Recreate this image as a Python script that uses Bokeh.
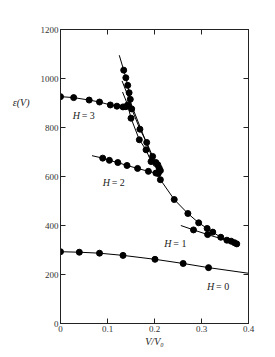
from bokeh.plotting import figure
from bokeh.models import LinearAxis, Label, FixedTicker, Range1d
from bokeh.embed import file_html
from bokeh.resources import INLINE

# ---- data ----
x_ticks = [0, 0.1, 0.2, 0.3, 0.4]
x_tick_labels = ["0", "0.1", "0.2", "0.3", "0.4"]
y_ticks = [0, 200, 400, 600, 800, 1000, 1200]
y_title_pos = [903]
y_title = "ε(V)"
x_title = "V/V₀"

# H = 0
h0_line_x = [0, 0.04, 0.083, 0.133, 0.201, 0.261, 0.315, 0.4]
h0_line_y = [293, 291, 287, 278, 262, 245, 228, 205]
h0_dot_x = [0, 0.04, 0.083, 0.133, 0.201, 0.261, 0.315]
h0_dot_y = [293, 291, 287, 278, 262, 245, 228]

# H = 1 branch
h1_line_x = [0.256, 0.283, 0.313, 0.37]
h1_line_y = [400, 382, 363, 330]
h1_dot_x = [0.283, 0.313]
h1_dot_y = [382, 363]

# H = 2 flat branch
h2_line_x = [0.067, 0.0898, 0.104, 0.122, 0.1415, 0.164, 0.187, 0.203]
h2_line_y = [685, 675, 666, 657, 645, 633, 621, 614]
h2_dot_x = [0.0898, 0.104, 0.122, 0.1415, 0.164, 0.187, 0.203]
h2_dot_y = [675, 666, 657, 645, 633, 621, 614]

# H = 3 flat branch
h3_line_x = [0, 0.028, 0.061, 0.083, 0.106, 0.12, 0.133, 0.139, 0.146]
h3_line_y = [926, 922, 912, 904, 892, 887, 884, 885, 892]
h3_dot_x = [0, 0.028, 0.061, 0.083, 0.106, 0.12, 0.133, 0.139]
h3_dot_y = [926, 922, 912, 904, 892, 887, 884, 885]

# steep envelope curve
env_line_x = [0.125, 0.1345, 0.139, 0.143, 0.146, 0.1485, 0.1515, 0.169, 0.1834,
              0.196, 0.203, 0.207, 0.210, 0.2125, 0.208, 0.2125, 0.242, 0.271,
              0.294, 0.312, 0.324, 0.341, 0.354, 0.363, 0.37, 0.375]
env_line_y = [1095, 1034, 1003, 972, 942, 915, 876, 793, 739,
              682, 657, 648, 635, 624, 612, 587, 506, 449,
              411, 388, 373, 352, 340, 336, 330, 325]
env_dot_x = env_line_x[1:]
env_dot_y = env_line_y[1:]

# inner steep lines
inA_line_x = [0.131, 0.205]
inA_line_y = [990, 628]
inB_line_x = [0.132, 0.143, 0.15, 0.1677, 0.182, 0.1926, 0.2]
inB_line_y = [945, 892, 838, 750, 709, 661, 640]
inB_dot_x = [0.143, 0.15, 0.1677, 0.182, 0.1926]
inB_dot_y = [892, 838, 750, 709, 661]

# annotations: (x, y, number)
h_labels_x = [0.026, 0.0898, 0.221, 0.3117]
h_labels_y = [851, 575, 327, 152]
h_labels_num = ["3", "2", "1", "0"]

FONT = "Liberation Serif"
INK = "#222222"

p = figure(width=267, height=349, output_backend="svg", toolbar_location=None,
           x_range=Range1d(0, 0.4), y_range=Range1d(0, 1200),
           min_border_left=60, min_border_right=19, min_border_top=29,
           min_border_bottom=25)
p.grid.visible = False
p.background_fill_color = "white"
p.border_fill_color = "white"
p.outline_line_color = INK
p.outline_line_width = 1

def style_axis(ax):
    ax.major_tick_in = 5
    ax.major_tick_out = 0
    ax.minor_tick_line_color = None
    ax.axis_line_color = INK
    ax.major_tick_line_color = INK
    ax.major_label_text_font = FONT
    ax.major_label_text_font_size = "9px"
    ax.major_label_text_color = "#333333"
    ax.major_label_standoff = 2

p.xaxis.ticker = FixedTicker(ticks=x_ticks)
p.xaxis.major_label_overrides = {t: l for t, l in zip(x_ticks, x_tick_labels)}
p.yaxis.ticker = FixedTicker(ticks=y_ticks)
style_axis(p.xaxis[0])
style_axis(p.yaxis[0])
p.xaxis.major_label_standoff = 2
p.xaxis.axis_label = x_title
p.xaxis.axis_label_text_font = FONT
p.xaxis.axis_label_text_font_style = "italic"
p.xaxis.axis_label_text_font_size = "10px"
p.xaxis.axis_label_text_color = INK
p.xaxis.axis_label_standoff = 1

# top / right axes: ticks only
top = LinearAxis(ticker=FixedTicker(ticks=x_ticks),
                 major_label_overrides={t: "" for t in x_ticks})
style_axis(top)
p.add_layout(top, "above")
right = LinearAxis(ticker=FixedTicker(ticks=y_ticks),
                   major_label_overrides={t: "" for t in y_ticks})
style_axis(right)
p.add_layout(right, "right")

# horizontal y title via an outer left axis
ytitle_axis = LinearAxis(ticker=FixedTicker(ticks=y_title_pos),
                         major_label_overrides={y_title_pos[0]: y_title})
ytitle_axis.axis_line_color = None
ytitle_axis.major_tick_line_color = None
ytitle_axis.minor_tick_line_color = None
ytitle_axis.major_label_text_font = FONT
ytitle_axis.major_label_text_font_style = "italic"
ytitle_axis.major_label_text_font_size = "10px"
ytitle_axis.major_label_text_color = INK
ytitle_axis.major_label_standoff = 2
p.add_layout(ytitle_axis, "left")

for lx, ly in [(h0_line_x, h0_line_y), (h1_line_x, h1_line_y), (h2_line_x, h2_line_y),
               (h3_line_x, h3_line_y), (env_line_x, env_line_y),
               (inA_line_x, inA_line_y), (inB_line_x, inB_line_y)]:
    p.line(lx, ly, line_color="black", line_width=1)

for dx, dy in [(h0_dot_x, h0_dot_y), (h1_dot_x, h1_dot_y), (h2_dot_x, h2_dot_y),
               (h3_dot_x, h3_dot_y), (env_dot_x, env_dot_y), (inB_dot_x, inB_dot_y)]:
    p.scatter(dx, dy, size=6, fill_color="black", line_color="black")

for lx, ly, n in zip(h_labels_x, h_labels_y, h_labels_num):
    p.add_layout(Label(x=lx, y=ly, text="H", text_font=FONT, text_font_style="italic",
                       text_font_size="10px", text_baseline="middle", text_align="left",
                       text_color=INK))
    p.add_layout(Label(x=lx, y=ly, x_offset=9, text="= " + n, text_font=FONT,
                       text_font_size="10px", text_baseline="middle", text_align="left",
                       text_color=INK))

open("out.html", "w").write(file_html(p, INLINE))
